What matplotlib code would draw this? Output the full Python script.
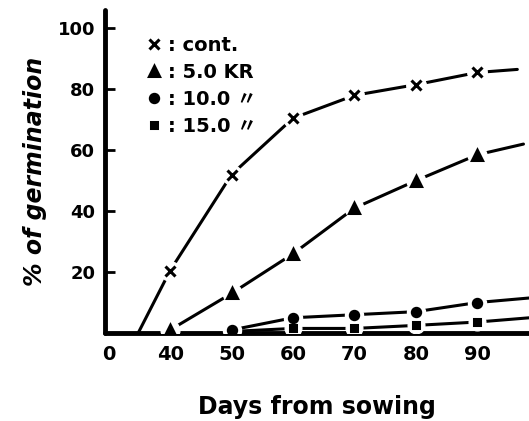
import matplotlib
matplotlib.use("Agg")
import matplotlib.pyplot as plt
from matplotlib.lines import Line2D
from matplotlib.font_manager import FontProperties

# data (days from sowing, % germination)
cont_days = [34.8, 40, 50, 60, 70, 80, 90, 96.5]
cont_vals = [0, 20.5, 52, 70.5, 78, 81.5, 85.5, 86.5]

kr5_days = [40, 50, 60, 70, 80, 90, 97.5]
kr5_vals = [1, 13, 26, 41, 50, 58.5, 62]

kr10_days = [50, 60, 70, 80, 90, 98.5]
kr10_vals = [1, 5, 6, 7, 10, 11.5]

kr15_days = [50, 60, 70, 80, 90, 98.5]
kr15_vals = [0.5, 1.5, 1.5, 2.5, 3.6, 5]

# the ends of the lines run off the right edge without a marker
series = [
    (cont_days, cont_vals, "x", 7, ": cont."),
    (kr5_days, kr5_vals, "^", 6.5, ": 5.0 KR"),
    (kr10_days, kr10_vals, "o", 6, ": 10.0 \u3003"),
    (kr15_days, kr15_vals, "s", 5, ": 15.0 \u3003"),
]

xtick_pos = [30, 40, 50, 60, 70, 80, 90]
xtick_labels = ["0", "40", "50", "60", "70", "80", "90"]
ytick_pos = [20, 40, 60, 80, 100]

fig = plt.figure(figsize=(5.29, 4.21), dpi=100)
ax = fig.add_axes([105 / 529, 1 - 333 / 421, 424 / 529, 323 / 421])

for days, vals, mk, ms, lab in series:
    ax.plot(days, vals, color="black", lw=2.2, solid_capstyle="round", zorder=2)
    # first point of the cont. curve is where it leaves the axis, no marker there
    mdays = days[1:-1] if mk == "x" else days[:-1]
    mvals = vals[1:-1] if mk == "x" else vals[:-1]
    # white halo under the markers gives the little gaps of the pen drawing
    ax.plot(mdays, mvals, ls="none", marker="o", ms=ms + 7, mfc="white", mec="white", zorder=3)
    ax.plot(mdays, mvals, ls="none", marker=mk, ms=ms, mfc="black", mec="black", mew=2.2, zorder=4)

ax.set_xlim(29.4, 98.4)
ax.set_ylim(0, 106)

for side in ["top", "right"]:
    ax.spines[side].set_visible(False)
for side in ["left", "bottom"]:
    ax.spines[side].set_linewidth(3.5)
    ax.spines[side].set_capstyle("round")

ax.set_xticks(xtick_pos)
ax.set_xticklabels(xtick_labels)
ax.set_yticks(ytick_pos)
ax.set_yticklabels([str(v) for v in ytick_pos])
ax.tick_params(axis="x", length=0, pad=9, labelsize=14)
ax.tick_params(axis="y", direction="in", length=7, width=2, pad=7, labelsize=13)
for t in ax.get_xticklabels() + ax.get_yticklabels():
    t.set_fontweight("bold")

ax.set_xlabel("Days from sowing", fontsize=17, fontweight="bold", labelpad=22)
ax.set_ylabel("% of germination", fontsize=17, fontweight="bold", style="italic", labelpad=8)

handles = [Line2D([], [], ls="none", marker=mk, ms=ms, color="black", mew=2.2)
           for _, _, mk, ms, _ in series]
labels = [s[4] for s in series]
leg_font = FontProperties(family=["DejaVu Sans", "Noto Sans CJK JP"], weight="bold", size=14)
ax.legend(handles, labels, loc="upper left", bbox_to_anchor=(0.08, 0.945), frameon=False,
          prop=leg_font, handlelength=0.8, handletextpad=0.3, labelspacing=0.42,
          borderaxespad=0)

fig.savefig("out.png", dpi=100, facecolor="white")
